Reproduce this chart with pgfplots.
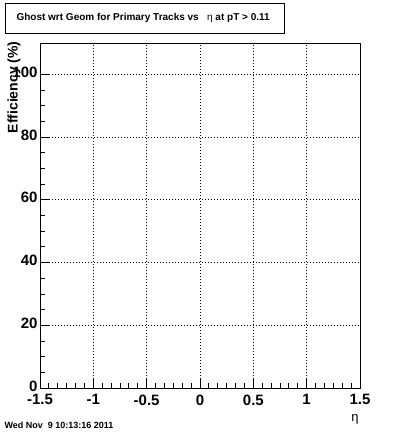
\documentclass[border=0pt]{standalone}
\usepackage{fontspec}
\setmainfont{Liberation Sans}
\usepackage{pgfplots}
\pgfplotsset{compat=1.18}
\begin{document}
\begin{tikzpicture}
\path[use as bounding box] (0pt,0pt) rectangle (400pt,433pt);
\begin{axis}[
  at={(40pt,45pt)}, anchor=south west,
  scale only axis, width=320pt, height=345pt,
  xmin=-1.5, xmax=1.5, ymin=0, ymax=110,
  xtick={-1.5,-1,...,1.5}, ytick={0,20,...,100},
  minor x tick num=5, minor y tick num=3,
  tick pos=left, tick align=inside,
  major tick length=10pt, minor tick length=5pt,
  grid=major, major grid style={black, dash pattern=on 0.8pt off 2.2pt, line width=0.8pt},
  axis line style={line width=0.8pt}, tick style={black, line width=0.8pt},
  /pgf/number format/assume math mode=true,
  ticklabel style={font=\fontsize{15}{15}\selectfont\bfseries},
  xticklabel style={yshift=-3pt},
  yticklabel style={xshift=1pt, yshift=2pt},
  xticklabels={-1.5,-1,-0.5,0,0.5,1,1.5},
  yticklabels={0,20,40,60,80,100},
]
\end{axis}
\draw[line width=0.8pt] (5pt,400pt) rectangle (284pt,430pt);
\node[anchor=west, font=\fontsize{10}{10}\selectfont\bfseries] at (13pt,415pt) {Ghost wrt Geom for Primary Tracks vs\ \ \ \textmd{η} at pT > 0.11};
\node[rotate=90, anchor=east, font=\fontsize{14}{14}\selectfont\bfseries] at (14pt,395pt) {Efficiency (\%)};
\node[font=\fontsize{13}{13}\selectfont] at (355pt,14pt) {η};
\node[anchor=west, font=\fontsize{9}{9}\selectfont\bfseries] at (1pt,8pt) {Wed Nov\ \ 9 10:13:16 2011};
\end{tikzpicture}
\end{document}
